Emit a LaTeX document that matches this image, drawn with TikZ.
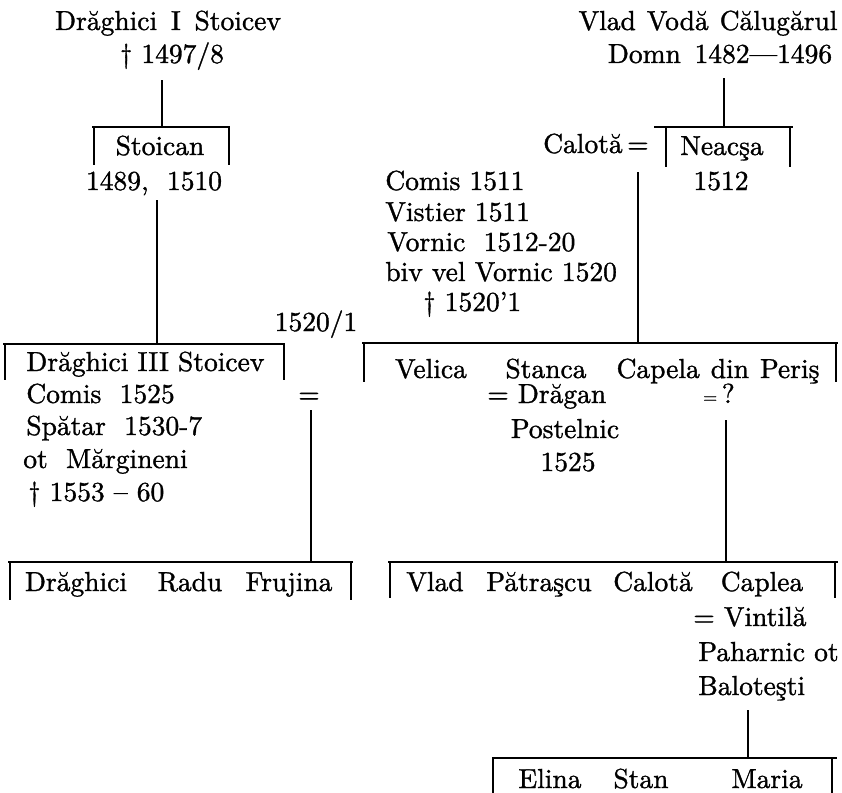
\documentclass[tikz,border=0pt]{standalone}
\usepackage{fontspec}
\setmainfont{lmroman10-regular.otf}[FakeBold=1.2]
\usepackage{tikz}

\begin{document}
\begin{tikzpicture}[x=1pt, y=-1pt, line width=2.7pt,
    txt/.style={font=\fontsize{27.5}{33}\selectfont, inner sep=0pt, anchor=base},
    lft/.style={txt, anchor=base west}]
    \useasboundingbox (0,0) rectangle (842,792);

    % Nodes for the Stoicev line
    \node[txt] (dr1) at (168,30) {Drăghici\hspace{0.5em}I\hspace{0.5em}Stoicev};
    \node[txt] (dr1d) at (172,63) {\textdagger{} 1497/8};
    \node[txt] (stoican) at (160,155) {Stoican};
    \node[txt] (stoicand) at (154,190) {1489,\ \ 1510};
    \node[lft] (dr3) at (25,371) {Drăghici III Stoicev};
    \node[lft] (dr3a) at (25,403) {Comis\ \ 1525};
    \node[lft] (dr3b) at (25,435) {Spătar\ \ 1530-7};
    \node[lft] (dr3c) at (22,468) {ot\ \ Mărgineni};
    \node[lft] (dr3d) at (27,501) {\textdagger{} 1553 -- 60};
    \node[txt] (m1yr) at (316,331) {1520/1};
    \node[txt] (m1eq) at (309,403) {=};
    \node[txt] (ch1) at (76,591) {Drăghici};
    \node[txt] (ch2) at (190,591) {Radu};
    \node[txt] (ch3) at (289,591) {Frujina};

    % Nodes for the line of Vlad
    \node[txt] (vlad) at (708,30) {Vlad\hspace{0.4em}Vodă\hspace{0.4em}Călugărul};
    \node[txt] (vladd) at (720,63) {Domn\hspace{0.5em}1482—1496};
    \node[txt, anchor=base east] (calota) at (650,153) {Calotă\,=};
    \node[txt] (neacsa) at (722,155) {Neacşa};
    \node[txt] (neacsad) at (721,190) {1512};
    \node[lft] (cal1) at (384,190) {Comis 1511};
    \node[lft] (cal2) at (384,221) {Vistier 1511};
    \node[lft] (cal3) at (386,251) {Vornic\ \ 1512-20};
    \node[lft] (cal4) at (384,281) {biv vel Vornic 1520};
    \node[lft] (cal5) at (422,311) {\textdagger{} 1520'1};
    \node[txt] (velica) at (431,378) {Velica};
    \node[txt] (stanca) at (546,378) {Stanca};
    \node[txt] (capela) at (718,378) {Capela\hspace{0.4em}din\hspace{0.4em}Periş};
    \node[lft] (dragan) at (486,403) {= Drăgan};
    \node[txt] (dragan2) at (565,438) {Postelnic};
    \node[txt] (dragan3) at (568,471) {1525};
    \node[txt] (capeq) at (719,403) {{\fontsize{18}{20}\selectfont =}\,?};
    \node[txt] (gvlad) at (435,591) {Vlad};
    \node[txt] (gpatr) at (539,591) {Pătraşcu};
    \node[txt] (gcal) at (653,591) {Calotă};
    \node[txt] (gcap) at (762,591) {Caplea};
    \node[lft] (vint) at (692,626) {= Vintilă};
    \node[lft] (vint2) at (697,661) {Paharnic ot};
    \node[lft] (vint3) at (697,695) {Baloteşti};
    \node[txt] (elina) at (550,788) {Elina};
    \node[txt] (stan) at (641,788) {Stan};
    \node[txt] (maria) at (767,788) {Maria};

    % Ends of the descent lines
    \coordinate (s1) at (162,80);  \coordinate (j1) at (162,127);
    \coordinate (s2) at (157,200); \coordinate (j2) at (157,344);
    \coordinate (s3) at (311,410); \coordinate (j3) at (311,562);
    \coordinate (s4) at (724,78);  \coordinate (j4) at (724,127);
    \coordinate (s5) at (638,172); \coordinate (j5) at (638,343);
    \coordinate (s6) at (726,420); \coordinate (j6) at (726,562);
    \coordinate (s7) at (748,710); \coordinate (j7) at (748,758);

    % Descent lines
    \draw (s1) -- (j1);
    \draw (s2) -- (j2);
    \draw (s3) -- (j3);
    \draw (s4) -- (j4);
    \draw (s5) -- (j5);
    \draw (s6) -- (j6);
    \draw (s7) -- (j7);

    % Brackets for the children
    \draw (92,127) -- (230,127) (94,127) -- (94,165) (229,127) -- (229,165);
    \draw (3,344) -- (285,344) (5,344) -- (5,380) (284,344) -- (284,380);
    \draw (8,562) -- (353,562) (10,562) -- (10,600) (351,562) -- (351,600);
    \draw (654,127) -- (793,127) (666,127) -- (666,167) (790,127) -- (790,167);
    \draw (362,343) -- (838,343) (364,343) -- (364,382) (836,343) -- (836,382);
    \draw (388,562) -- (838,562) (390,562) -- (390,598) (835,562) -- (835,598);
    \draw (492,758) -- (837,758) (493,758) -- (493,800) (832,758) -- (832,800);
\end{tikzpicture}
\end{document}
